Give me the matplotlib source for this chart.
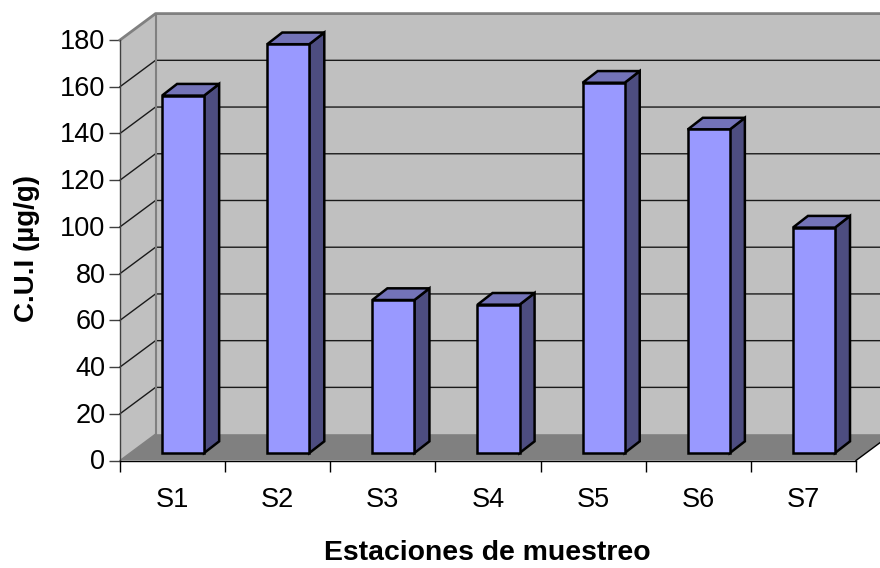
import matplotlib
matplotlib.use("Agg")
import matplotlib.pyplot as plt
from matplotlib.patches import Polygon
from matplotlib.transforms import ScaledTranslation

plt.rcParams['font.family'] = ['Liberation Sans', 'DejaVu Sans']

estaciones = ["S1", "S2", "S3", "S4", "S5", "S6", "S7"]
cui = [153, 175, 65.5, 63.5, 158.5, 138.5, 96.5]
y_ticks = [0, 20, 40, 60, 80, 100, 120, 140, 160, 180]

# fake 3d: depth offsets in data units
wall_dx, wall_dy = 0.338, 11.3
bar_dx, bar_dy = 0.143, 5.0
bar_x0, bar_w, bar_lift = 0.4, 0.4, 3.2

fig = plt.figure(figsize=(8.8, 5.68), dpi=100)
ax = fig.add_axes([120 / 880, 1 - 460.5 / 568, 736 / 880, 420.5 / 568])
n = len(estaciones)
ax.set_xlim(0, n)
ax.set_ylim(0, 180)

def poly(pts, face, edge="none", lw=0, z=1):
    ax.add_patch(Polygon(pts, closed=True, facecolor=face, edgecolor=edge,
                         linewidth=lw, joinstyle="miter", clip_on=False, zorder=z))

# walls and floor
poly([(wall_dx, wall_dy), (n + wall_dx, wall_dy), (n + wall_dx, 180 + wall_dy), (wall_dx, 180 + wall_dy)], "#C0C0C0")
poly([(0, 0), (wall_dx, wall_dy), (wall_dx, 180 + wall_dy), (0, 180)], "#C0C0C0")
poly([(0, 0), (n, 0), (n + wall_dx, wall_dy), (wall_dx, wall_dy)], "#808080")

# gridlines run along the side wall and the back wall
for v in y_ticks[1:-1]:
    ax.plot([0, wall_dx, n + wall_dx], [v, v + wall_dy, v + wall_dy], color="#1a1a1a",
            lw=1.0, clip_on=False, zorder=2)

ax.plot([0, wall_dx, n + wall_dx], [180, 180 + wall_dy, 180 + wall_dy], color="#808080",
        lw=2.0, clip_on=False, zorder=2)
ax.plot([wall_dx, wall_dx], [wall_dy, 180 + wall_dy], color="#808080", lw=1.5, clip_on=False, zorder=2)
ax.plot([wall_dx, 0], [wall_dy, 0], color="#808080", lw=1.0, clip_on=False, zorder=2)
ax.plot([n, n + wall_dx], [0, wall_dy], color="black", lw=1.0, clip_on=False, zorder=2)

# bars
for i, v in enumerate(cui):
    x0 = i + bar_x0
    x1 = x0 + bar_w
    y0 = bar_lift
    y1 = bar_lift + v
    poly([(x1, y0), (x1 + bar_dx, y0 + bar_dy), (x1 + bar_dx, y1 + bar_dy), (x1, y1)], "#4D4D80", "black", 1.8, 3)
    poly([(x0, y1), (x1, y1), (x1 + bar_dx, y1 + bar_dy), (x0 + bar_dx, y1 + bar_dy)], "#7373B8", "black", 1.8, 3)
    poly([(x0, y0), (x1, y0), (x1, y1), (x0, y1)], "#9999FF", "black", 1.8, 4)

for s in ["top", "right"]:
    ax.spines[s].set_visible(False)
ax.spines["left"].set_color("#404040")
ax.spines["left"].set_linewidth(1.0)
ax.spines["bottom"].set_color("black")
ax.spines["bottom"].set_linewidth(1.0)
ax.patch.set_visible(False)

ax.set_yticks(y_ticks)
ax.set_xticks(range(n + 1))
ax.set_xticklabels([])
ax.set_xticks([i + 0.5 for i in range(n)], minor=True)
ax.set_xticklabels(estaciones, minor=True)
ax.tick_params(axis="y", length=8, width=1, color="#404040", labelsize=19.5, pad=2.5)
ax.tick_params(axis="x", which="major", length=8, width=1)
ax.tick_params(axis="x", which="minor", length=0, labelsize=19.5, pad=19)

# y labels sit a little above their ticks
shift = ScaledTranslation(0, 0.75 / 72, fig.dpi_scale_trans)
for lab in ax.get_yticklabels():
    lab.set_transform(lab.get_transform() + shift)

fig.text(487 / 880, 1 - 560.5 / 568, "Estaciones de muestreo", fontsize=20.4, fontweight="bold",
         ha="center", va="baseline")
fig.text(33.5 / 880, 1 - 249 / 568, "C.U.I (µg/g)", fontsize=20, fontweight="bold",
         rotation=90, rotation_mode="anchor", ha="center", va="baseline")

fig.savefig("out.png", dpi=100)
